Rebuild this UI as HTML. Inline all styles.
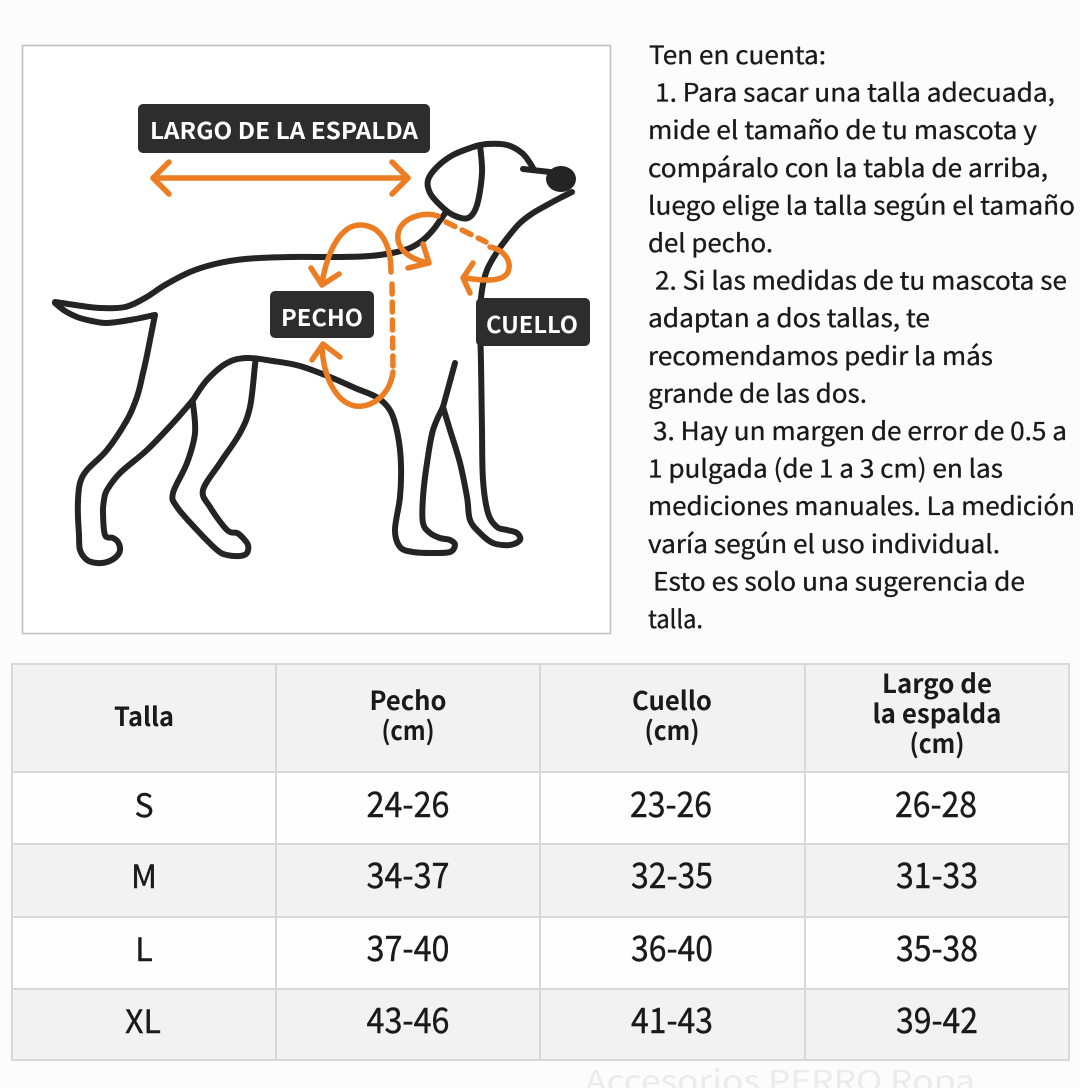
<!DOCTYPE html>
<html>
<head>
<meta charset="utf-8">
<style>
html,body{margin:0;padding:0;background:#fcfcfc;}
svg{display:block;}
.p{font-family:"Noto Sans CJK JP","Liberation Sans",sans-serif;font-size:25px;fill:#1a1a1a;stroke:#1a1a1a;stroke-width:0.35px;}
.lbl{font-family:"Noto Sans CJK JP","Liberation Sans",sans-serif;font-weight:700;fill:#ffffff;}
.th{font-family:"Noto Sans CJK JP","Liberation Sans",sans-serif;font-weight:700;font-size:26px;fill:#1a1a1a;}
.td{font-family:"Noto Sans CJK JP","Liberation Sans",sans-serif;font-size:35px;fill:#1a1a1a;stroke:#1a1a1a;stroke-width:0.4px;}
.ts{font-family:"Noto Sans CJK JP","Liberation Sans",sans-serif;font-size:32px;fill:#1a1a1a;stroke:#1a1a1a;stroke-width:0.4px;}
</style>
</head>
<body>
<svg id="s" width="1080" height="1088" viewBox="0 0 1080 1088" xmlns="http://www.w3.org/2000/svg">
<rect x="0" y="0" width="1080" height="1088" fill="#fcfcfc"/>

<!-- Illustration box -->
<rect x="22.5" y="45.5" width="588" height="588" fill="#ffffff" stroke="#c2c2c2" stroke-width="1.6"/>

<!-- Dog outline -->
<g fill="none" stroke="#242424" stroke-width="6" stroke-linejoin="round" stroke-linecap="round">
  <polyline class="sm" points="55,302 75,305 100,308 125,307 145,298 165,285 190,272 215,264 245,259 290,257 340,257 370,256 392,253 410,248 423,240 433,230 441,219 446,212"/>
  <polyline class="sm" points="55,303 65,311 77,317 92,321 107,323 130,320 150,316"/>
  <polyline class="sm" points="155,315 152,330 150,340 146,360 143,373 137,397 127,420 107,450 87,470 80,483 78,500 78,517 79,535 80,550 87,560 97,563 107,562 116,557 120,550 118,542 113,538 105,535 103,513 104,500 107,490 120,473 147,450 173,423 193,400"/>
  <line x1="150" y1="316" x2="155" y2="315"/>
  <polyline class="sm" points="193,400 207,380 227,363 247,358 273,361 300,366 330,377 355,388 378,398 391,412 398,436 401,465 400,497 395,530 400,547 413,552 433,553 450,552 455,545 450,540 440,538 430,533 423,523 423,497 427,463 433,430 443,407"/>
  <polyline class="sm" points="193,403 195,433 187,463 173,493 177,507 197,530 217,550 227,555 240,556 247,553 248,545 243,538 237,533 227,530 210,507 203,490 220,463 240,433 250,407 255,365 256,359"/>
  <polyline class="sm" points="455,363 449,385 443,407"/>
  <polyline class="sm" points="443,407 450,430 460,463 467,497 470,520 480,533 493,543 510,545 520,540 517,533 507,530 497,527 488,513 483,480 482,430 481,363 480,317 482,290 487,270 497,252 508,237 520,223 533,213 547,205 560,198 572,192"/>
  <polyline class="sm" points="480,145 482,173 477,205 468,218 453,215 440,205 430,193 428,180 437,167 453,155 473,147 480,145"/>
  <polyline class="sm" points="473,147 487,144 507,145 522,153 530,163 533,168"/>
  <line x1="523" y1="169" x2="550" y2="172"/>
</g>
<ellipse cx="561" cy="179" rx="15" ry="13" fill="#242424"/>

<!-- Orange measurement marks -->
<g fill="none" stroke="#ec7d22" stroke-width="5.5" stroke-linecap="round" stroke-linejoin="round">
  <line x1="153" y1="178" x2="408" y2="178"/>
  <polyline points="169,162 153,178 169,194"/>
  <polyline points="392,162 408,178 392,194"/>
  <path d="M391,272 C391,240 378,225 360,225 C342,225 328,248 322,283"/>
  <polyline points="311,268 322,285 339,274"/>
  <line x1="392" y1="284" x2="393" y2="368" stroke-dasharray="10,8"/>
  <path d="M393,372 C390,395 372,408 355,406 C335,402 323,375 322,346"/>
  <polyline points="312,360 323,344 340,357"/>
  <path d="M438,216 C425,212 405,216 399,230 C394,245 405,258 428,263"/>
  <polyline points="423,244 429,263 408,268"/>
  <line x1="446" y1="222" x2="486" y2="242" stroke-dasharray="10,8"/>
  <path d="M490,247 C505,250 512,262 508,272 C503,282 485,281 465,278"/>
  <polyline points="473,263 463,278 470,293"/>
</g>

<!-- Label boxes -->
<rect x="138" y="104" width="292" height="49" rx="5" fill="#2d2d2d"/>
<text class="lbl" x="150" y="139" font-size="23" textLength="268" lengthAdjust="spacingAndGlyphs">LARGO DE LA ESPALDA</text>
<rect x="270" y="291" width="104" height="47" rx="5" fill="#2d2d2d"/>
<text class="lbl" x="281" y="326" font-size="23" textLength="82" lengthAdjust="spacingAndGlyphs">PECHO</text>
<rect x="476" y="298" width="114" height="48" rx="5" fill="#2d2d2d"/>
<text class="lbl" x="486" y="333" font-size="23" textLength="92" lengthAdjust="spacingAndGlyphs">CUELLO</text>

<!-- Right paragraph -->
<text class="p" x="649" y="64" textLength="177" lengthAdjust="spacingAndGlyphs">Ten en cuenta:</text>
<text class="p" x="655" y="101.6" textLength="400" lengthAdjust="spacingAndGlyphs">1. Para sacar una talla adecuada,</text>
<text class="p" x="648" y="139.2" textLength="389" lengthAdjust="spacingAndGlyphs">mide el tamaño de tu mascota y</text>
<text class="p" x="648" y="176.8" textLength="400" lengthAdjust="spacingAndGlyphs">compáralo con la tabla de arriba,</text>
<text class="p" x="648" y="214.4" textLength="427" lengthAdjust="spacingAndGlyphs">luego elige la talla según el tamaño</text>
<text class="p" x="648" y="252" textLength="125" lengthAdjust="spacingAndGlyphs">del pecho.</text>
<text class="p" x="655" y="289.6" textLength="412" lengthAdjust="spacingAndGlyphs">2. Si las medidas de tu mascota se</text>
<text class="p" x="648" y="327.2" textLength="282" lengthAdjust="spacingAndGlyphs">adaptan a dos tallas, te</text>
<text class="p" x="648" y="364.8" textLength="345" lengthAdjust="spacingAndGlyphs">recomendamos pedir la más</text>
<text class="p" x="648" y="402.4" textLength="219" lengthAdjust="spacingAndGlyphs">grande de las dos.</text>
<text class="p" x="653" y="440" textLength="414" lengthAdjust="spacingAndGlyphs">3. Hay un margen de error de 0.5 a</text>
<text class="p" x="648" y="477.6" textLength="355" lengthAdjust="spacingAndGlyphs">1 pulgada (de 1 a 3 cm) en las</text>
<text class="p" x="648" y="515.2" textLength="427" lengthAdjust="spacingAndGlyphs">mediciones manuales. La medición</text>
<text class="p" x="648" y="552.8" textLength="352" lengthAdjust="spacingAndGlyphs">varía según el uso individual.</text>
<text class="p" x="653" y="590.4" textLength="372" lengthAdjust="spacingAndGlyphs">Esto es solo una sugerencia de</text>
<text class="p" x="648" y="628" textLength="55" lengthAdjust="spacingAndGlyphs">talla.</text>

<!-- Table -->
<rect x="12" y="664" width="1057" height="108" fill="#f2f2f2"/>
<rect x="12" y="772" width="1057" height="72" fill="#fefefe"/>
<rect x="12" y="844" width="1057" height="73" fill="#f2f2f2"/>
<rect x="12" y="917" width="1057" height="72" fill="#fefefe"/>
<rect x="12" y="989" width="1057" height="71" fill="#f2f2f2"/>
<g stroke="#d8d8d8" stroke-width="2" fill="none">
  <rect x="12" y="664" width="1057" height="396"/>
  <line x1="12" y1="772" x2="1069" y2="772"/>
  <line x1="12" y1="844" x2="1069" y2="844"/>
  <line x1="12" y1="917" x2="1069" y2="917"/>
  <line x1="12" y1="989" x2="1069" y2="989"/>
  <line x1="276" y1="664" x2="276" y2="1060"/>
  <line x1="540" y1="664" x2="540" y2="1060"/>
  <line x1="805" y1="664" x2="805" y2="1060"/>
</g>

<g text-anchor="middle">
  <text class="th" x="144" y="726" textLength="60" lengthAdjust="spacingAndGlyphs">Talla</text>
  <text class="th" x="408" y="710" textLength="77" lengthAdjust="spacingAndGlyphs">Pecho</text>
  <text class="th" x="408" y="740" textLength="53" lengthAdjust="spacingAndGlyphs">(cm)</text>
  <text class="th" x="672" y="710" textLength="80" lengthAdjust="spacingAndGlyphs">Cuello</text>
  <text class="th" x="672" y="740" textLength="55" lengthAdjust="spacingAndGlyphs">(cm)</text>
  <text class="th" x="937" y="693" textLength="110" lengthAdjust="spacingAndGlyphs">Largo de</text>
  <text class="th" x="937" y="723" textLength="129" lengthAdjust="spacingAndGlyphs">la espalda</text>
  <text class="th" x="937" y="753" textLength="55" lengthAdjust="spacingAndGlyphs">(cm)</text>

  <text class="ts" x="144" y="817">S</text>
  <text class="ts" x="144" y="888">M</text>
  <text class="ts" x="144" y="961">L</text>
  <text class="ts" x="143" y="1033">XL</text>

  <text class="td" x="408" y="817" textLength="83" lengthAdjust="spacingAndGlyphs">24-26</text>
  <text class="td" x="671" y="817" textLength="82" lengthAdjust="spacingAndGlyphs">23-26</text>
  <text class="td" x="936" y="817" textLength="82" lengthAdjust="spacingAndGlyphs">26-28</text>

  <text class="td" x="408" y="888" textLength="83" lengthAdjust="spacingAndGlyphs">34-37</text>
  <text class="td" x="672" y="888" textLength="82" lengthAdjust="spacingAndGlyphs">32-35</text>
  <text class="td" x="937" y="888" textLength="82" lengthAdjust="spacingAndGlyphs">31-33</text>

  <text class="td" x="408" y="961" textLength="83" lengthAdjust="spacingAndGlyphs">37-40</text>
  <text class="td" x="672" y="961" textLength="82" lengthAdjust="spacingAndGlyphs">36-40</text>
  <text class="td" x="937" y="961" textLength="82" lengthAdjust="spacingAndGlyphs">35-38</text>

  <text class="td" x="408" y="1033" textLength="83" lengthAdjust="spacingAndGlyphs">43-46</text>
  <text class="td" x="672" y="1033" textLength="82" lengthAdjust="spacingAndGlyphs">41-43</text>
  <text class="td" x="937" y="1033" textLength="82" lengthAdjust="spacingAndGlyphs">39-42</text>
</g>

<text x="585" y="1092" font-family="Noto Sans CJK JP, Liberation Sans, sans-serif" font-size="30" fill="#ebebeb" textLength="390" lengthAdjust="spacingAndGlyphs">Accesorios  PERRO  Ropa</text>
</svg>
<script>
(function(){
  var NS="http://www.w3.org/2000/svg";
  var pls=document.querySelectorAll("polyline.sm");
  for(var k=0;k<pls.length;k++){
    var pl=pls[k];
    var nums=pl.getAttribute("points").trim().split(/[\s,]+/).map(Number);
    var p=[];
    for(var i=0;i<nums.length;i+=2)p.push([nums[i],nums[i+1]]);
    if(p.length<3)continue;
    var d="M"+p[0][0]+","+p[0][1];
    for(var i=0;i<p.length-1;i++){
      var p0=p[i-1]||p[i],p1=p[i],p2=p[i+1],p3=p[i+2]||p[i+1];
      var c1x=p1[0]+(p2[0]-p0[0])/6,c1y=p1[1]+(p2[1]-p0[1])/6;
      var c2x=p2[0]-(p3[0]-p1[0])/6,c2y=p2[1]-(p3[1]-p1[1])/6;
      d+=" C"+c1x.toFixed(1)+","+c1y.toFixed(1)+" "+c2x.toFixed(1)+","+c2y.toFixed(1)+" "+p2[0]+","+p2[1];
    }
    var path=document.createElementNS(NS,"path");
    path.setAttribute("d",d);
    pl.parentNode.replaceChild(path,pl);
  }
})();
</script>
</body>
</html>
